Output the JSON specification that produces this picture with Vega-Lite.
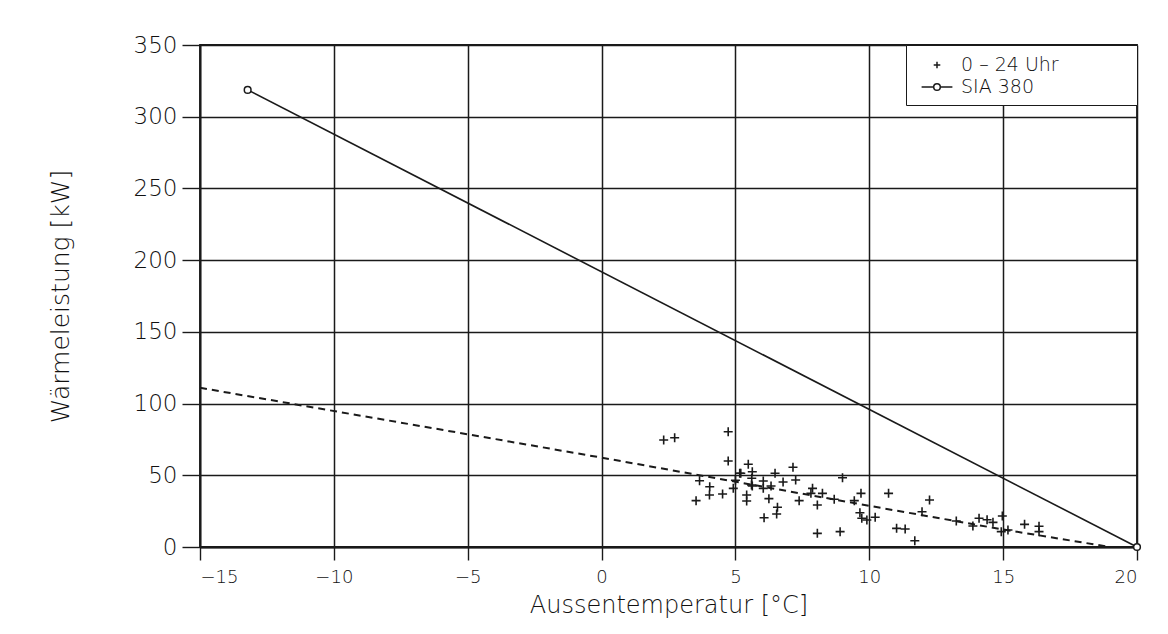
{
  "$schema": "https://vega.github.io/schema/vega-lite/v6.json",
  "autosize": "none",
  "width": 937,
  "height": 502,
  "padding": {"left": 200, "top": 45, "right": 31, "bottom": 87},
  "background": "white",
  "config": {
    "font": "DejaVu Sans",
    "view": {"stroke": "#1a1a1a", "strokeWidth": 1.8},
    "axis": {"gridColor": "#1a1a1a", "gridWidth": 1.5, "gridOpacity": 1, "domainColor": "#1a1a1a", "domainWidth": 1.8, "tickColor": "#1a1a1a", "tickWidth": 1.4, "labelColor": "#111", "titleColor": "#111", "labelFont": "DejaVu Sans", "titleFont": "DejaVu Sans", "labelFontWeight": 200, "titleFontWeight": 200}
  },
  "datasets": {
    "messung": [
      {"t": 2.32, "p": 74.6}, {"t": 2.73, "p": 76.2}, {"t": 4.73, "p": 80.4}, {"t": 4.73, "p": 60.0},
      {"t": 5.48, "p": 57.7}, {"t": 5.16, "p": 51.4}, {"t": 5.63, "p": 52.5}, {"t": 6.48, "p": 51.4},
      {"t": 7.15, "p": 55.6}, {"t": 3.66, "p": 46.2}, {"t": 4.04, "p": 42.0}, {"t": 4.03, "p": 36.3},
      {"t": 4.52, "p": 37.0}, {"t": 3.53, "p": 32.3}, {"t": 4.92, "p": 40.9}, {"t": 5.0, "p": 46.5},
      {"t": 5.61, "p": 47.9}, {"t": 5.63, "p": 42.5}, {"t": 6.04, "p": 46.0}, {"t": 6.04, "p": 40.9},
      {"t": 6.33, "p": 42.5}, {"t": 6.78, "p": 45.3}, {"t": 7.25, "p": 46.7}, {"t": 5.42, "p": 36.3},
      {"t": 5.42, "p": 32.1}, {"t": 6.25, "p": 33.7}, {"t": 6.57, "p": 27.7}, {"t": 6.54, "p": 23.0},
      {"t": 6.07, "p": 20.4}, {"t": 7.38, "p": 32.3}, {"t": 5.2, "p": 51.4}, {"t": 5.6, "p": 43.2},
      {"t": 9.0, "p": 48.3}, {"t": 7.88, "p": 40.9}, {"t": 7.82, "p": 37.4}, {"t": 8.25, "p": 37.4},
      {"t": 8.06, "p": 29.3}, {"t": 8.69, "p": 33.3}, {"t": 9.44, "p": 32.3}, {"t": 9.69, "p": 37.4},
      {"t": 10.72, "p": 37.4}, {"t": 12.25, "p": 32.8}, {"t": 9.65, "p": 23.9}, {"t": 9.72, "p": 20.0},
      {"t": 9.91, "p": 18.8}, {"t": 10.22, "p": 20.7}, {"t": 8.06, "p": 9.5}, {"t": 8.91, "p": 10.7},
      {"t": 11.02, "p": 13.0}, {"t": 11.34, "p": 12.5}, {"t": 11.7, "p": 4.4}, {"t": 11.97, "p": 24.6},
      {"t": 13.25, "p": 18.1}, {"t": 13.87, "p": 14.6}, {"t": 14.1, "p": 20.0}, {"t": 14.62, "p": 17.2},
      {"t": 14.97, "p": 21.6}, {"t": 14.93, "p": 10.7}, {"t": 15.18, "p": 11.9}, {"t": 15.8, "p": 15.8},
      {"t": 16.34, "p": 10.7}, {"t": 16.34, "p": 14.5}, {"t": 14.4, "p": 19.0}
    ],
    "sia": [
      {"t": -13.22, "p": 318.7},
      {"t": 20, "p": 0}
    ],
    "trend": [
      {"t": -15, "p": 111},
      {"t": -5, "p": 78.6},
      {"t": 0, "p": 62.3},
      {"t": 10, "p": 28.7},
      {"t": 15, "p": 12.2},
      {"t": 19.0, "p": 0}
    ]
  },
  "encoding": {
    "x": {"field": "t", "type": "quantitative",
      "scale": {"domain": [-15, 20], "nice": false, "zero": false},
      "axis": {"title": "Aussentemperatur [°C]", "values": [-15, -10, -5, 0, 5, 10, 15, 20], "tickSize": 13, "labelPadding": 8, "labelFontSize": 18, "titleFontSize": 24, "titlePadding": 7}},
    "y": {"field": "p", "type": "quantitative",
      "scale": {"domain": [0, 350], "nice": false},
      "axis": {"title": "Wärmeleistung [kW]", "values": [0, 50, 100, 150, 200, 250, 300, 350], "tickSize": 18, "labelPadding": 5, "labelFontSize": 23, "titleFontSize": 25, "titlePadding": 60}}
  },
  "layer": [
    {
      "data": {"name": "trend"},
      "mark": {"type": "line", "color": "#1a1a1a", "strokeWidth": 2, "strokeDash": [7, 5]}
    },
    {
      "data": {"name": "sia"},
      "mark": {"type": "line", "color": "#1a1a1a", "strokeWidth": 1.6}
    },
    {
      "data": {"name": "sia"},
      "mark": {"type": "point", "shape": "circle", "filled": true, "fill": "white", "stroke": "#1a1a1a", "strokeWidth": 1.5, "size": 45, "opacity": 1}
    },
    {
      "data": {"name": "messung"},
      "mark": {"type": "point", "filled": false, "stroke": "#1a1a1a", "strokeWidth": 1.6, "size": 900, "opacity": 1},
      "encoding": {
        "shape": {"datum": "0 – 24 Uhr", "type": "nominal",
          "scale": {"domain": ["0 – 24 Uhr", "SIA 380"], "range": ["M-0.3,0H0.3M0,-0.3V0.3", "M-1.4,0H-0.3M0.3,0H1.4M-0.3,0A0.3,0.3 0 1,0 0.3,0A0.3,0.3 0 1,0 -0.3,0"]},
          "legend": {"title": null, "orient": "top-right", "offset": 0, "strokeColor": "#1a1a1a", "padding": 8, "fillColor": "white", "labelFontSize": 19, "labelFont": "DejaVu Sans", "labelFontWeight": 200, "labelColor": "#111", "symbolSize": 484, "symbolOffset": 11, "symbolStrokeColor": "#1a1a1a", "symbolStrokeWidth": 1.5, "symbolFillColor": "transparent", "rowPadding": -7, "labelOffset": 12, "labelLimit": 400,
            "labelExpr": "datum.label + '\u2800\u2800\u2800\u2800\u2800'",
            "encode": {
              "legend": {"update": {"strokeWidth": {"value": 1.5}}}
            }}}
      }
    }
  ]
}
